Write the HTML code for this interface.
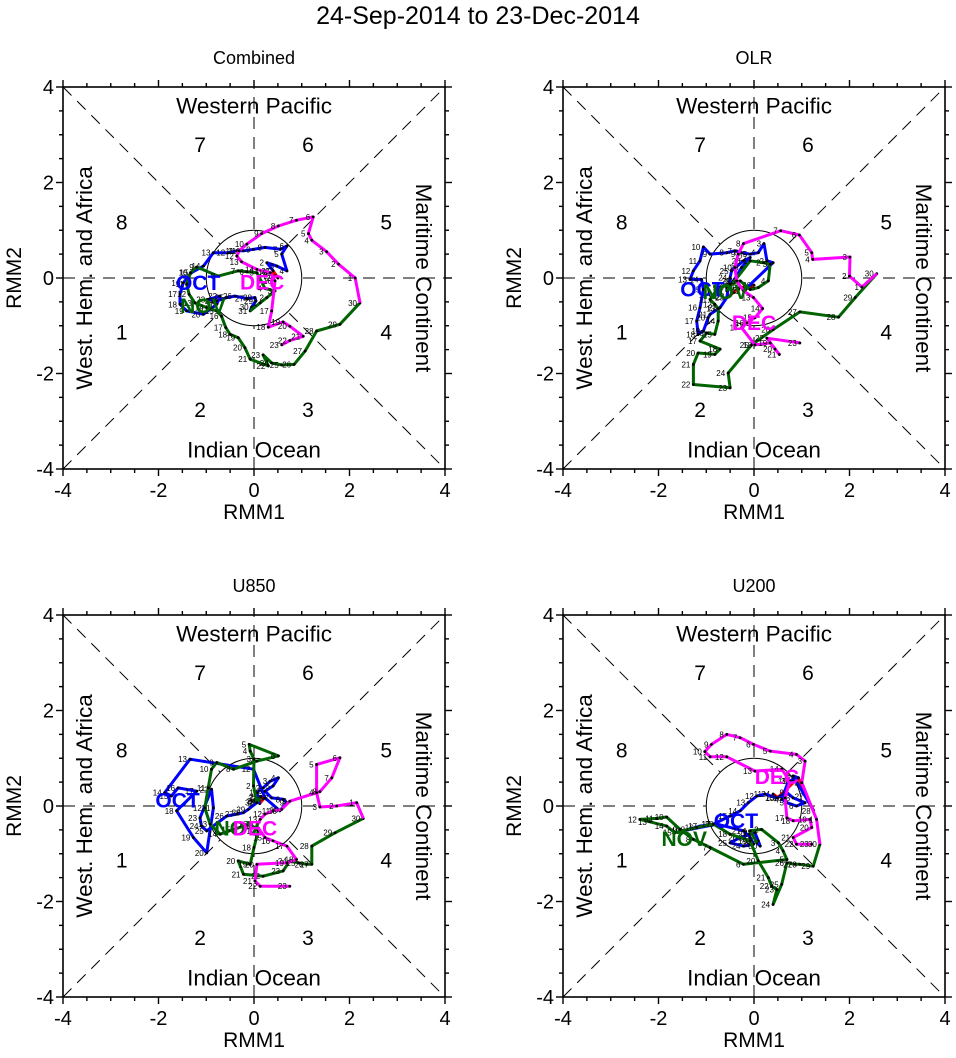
<!DOCTYPE html>
<html><head><meta charset="utf-8">
<style>
body{margin:0;background:#fff;}
svg{display:block;font-family:"Liberation Sans",Arial,sans-serif;}
</style></head>
<body>
<svg id="chart" width="956" height="1058" viewBox="0 0 956 1058">
<text x="478" y="24" text-anchor="middle" font-size="25">24-Sep-2014 to 23-Dec-2014</text>
</svg>
<script>
// ---- data (RMM1, RMM2) per panel / month ----
const panelTitles = ["Combined","OLR","U850","U200"];
const tickLabels = [-4,-2,0,2,4];
// Combined
const p1RedX=[0.35,0.45,0.50,0.40];
const p1RedY=[0.10,0.05,0.00,0.15];
const p1OctX=[0.40,0.27,0.48,0.69,0.58,0.69,0.55,0.23,-0.01,-0.22,-0.36,-0.54,-0.85,-1.06,-1.31,-1.48,-1.55,-1.55,-1.41,-1.06,-0.78,-0.71,-0.96,-0.78,-0.57,-0.40,-0.15,0.02,0.04,-0.05,-0.08];
const p1OctY=[0.15,0.32,0.25,0.15,0.50,0.67,0.60,0.64,0.60,0.57,0.57,0.53,0.53,0.25,0.11,-0.10,-0.34,-0.55,-0.69,-0.76,-0.55,-0.38,-0.45,-0.48,-0.41,-0.38,-0.43,-0.41,-0.48,-0.61,-0.69];
const p1NovX=[0.13,0.27,0.44,0.23,0.06,-0.15,-0.33,-0.75,-1.20,-1.33,-1.41,-1.36,-1.24,-0.99,-0.78,-0.68,-0.59,-0.50,-0.33,-0.19,-0.08,0.30,0.19,0.37,0.58,0.84,1.07,1.31,1.80,2.22];
const p1NovY=[-0.52,-0.41,-0.27,-0.22,0.11,0.13,0.15,0.04,0.23,0.11,-0.13,-0.34,-0.52,-0.62,-0.69,-0.80,-1.04,-1.18,-1.25,-1.46,-1.70,-1.84,-1.61,-1.78,-1.82,-1.81,-1.53,-1.11,-0.97,-0.52];
const p1DecX=[2.12,1.77,1.52,1.21,1.14,1.24,0.89,0.51,0.16,-0.15,-0.31,-0.36,-0.26,0.06,0.34,0.44,0.37,0.30,0.61,0.75,1.03,0.75,0.58];
const p1DecY=[0.00,0.29,0.55,0.79,0.93,1.28,1.21,1.09,0.93,0.71,0.57,0.46,0.34,0.18,0.11,-0.06,-0.69,-1.03,-0.92,-1.01,-1.22,-1.31,-1.40];
// OLR
const p2RedX=[-0.55,-0.30,0.00,-0.20];
const p2RedY=[-0.40,-0.20,-0.15,-0.25];
const p2OctX=[0.40,0.27,0.21,0.09,-0.08,-0.26,-0.40,-0.57,-0.92,-1.06,-1.13,-1.27,-1.34,-1.10,-1.06,-1.13,-1.20,-1.17,-1.06,-0.96,-0.92,-0.71,-0.57,-0.50,-0.47,-0.22,-0.08,-0.26,-0.43,-0.57,-0.57];
const p2OctY=[0.32,0.36,0.72,0.53,0.50,0.53,0.57,0.53,0.50,0.65,0.36,0.15,-0.03,-0.03,-0.24,-0.62,-0.90,-1.18,-1.11,-0.83,-0.76,-0.62,-0.41,0.01,0.15,0.36,0.43,0.22,-0.06,-0.20,-0.27];
const p2NovX=[-0.08,0.20,0.34,0.30,0.09,-0.08,-0.29,-0.50,-0.71,-0.82,-0.92,-0.82,-0.75,-0.75,-0.82,-0.99,-1.13,-0.71,-0.82,-1.17,-1.27,-1.27,-0.50,-0.54,-0.05,0.40,0.96,1.77,2.12,2.57];
const p2NovY=[0.36,0.32,0.29,-0.06,-0.20,-0.24,-0.06,-0.13,-0.20,-0.31,-0.45,-0.55,-0.64,-0.90,-1.18,-1.15,-1.32,-1.49,-1.60,-1.57,-1.81,-2.23,-2.30,-1.99,-1.40,-1.08,-0.71,-0.82,-0.41,0.09];
const p2DecX=[2.26,2.00,2.01,1.23,1.21,0.95,0.56,-0.22,-0.33,-0.40,-0.36,-0.22,-0.01,0.18,0.02,-0.15,-0.26,0.02,0.34,0.44,0.53,0.27,0.96];
const p2DecY=[-0.19,0.04,0.44,0.39,0.53,0.90,0.99,0.72,0.50,0.22,-0.06,-0.27,-0.41,-0.64,-0.83,-0.94,-1.04,-1.40,-1.36,-1.49,-1.60,-1.26,-1.36];
// U850
const p3RedX=[0.10,0.15,0.20,0.12];
const p3RedY=[0.10,0.20,0.15,0.05];
const p3OctX=[0.06,0.19,0.34,0.51,0.40,0.23,0.37,0.61,0.69,0.54,0.23,-0.01,-1.34,-1.87,-1.73,-1.59,-1.20,-1.62,-1.27,-0.99,-0.85,-0.89,-1.13,-1.10,-0.99,-0.57,-0.36,-0.22,-0.12,0.06,0.13];
const p3OctY=[0.28,0.38,0.52,0.59,0.42,0.31,0.17,0.14,0.07,-0.10,0.17,0.77,0.98,0.28,0.21,0.38,0.31,-0.10,-0.66,-0.98,-0.04,0.35,-0.25,-0.42,-0.52,-0.21,-0.17,-0.14,-0.07,0.07,0.17];
const p3NovX=[0.06,-0.01,0.00,-0.08,-0.10,0.51,0.06,-0.43,-0.78,-0.89,-0.96,-1.03,-0.92,-0.71,-0.43,-0.08,0.09,0.00,-0.08,-0.33,-0.22,0.19,0.61,0.75,0.93,1.10,1.21,1.21,1.70,2.29];
const p3NovY=[0.07,0.42,0.98,1.15,1.29,1.05,0.94,0.77,0.91,0.77,0.38,-0.04,-0.38,-0.59,-0.49,-0.38,-0.52,-0.87,-1.22,-1.15,-1.43,-1.47,-1.36,-1.15,-1.19,-1.22,-1.22,-0.84,-0.56,-0.26];
const p3DecX=[2.15,1.73,1.38,1.31,1.31,1.80,1.63,1.38,0.75,0.58,0.40,0.23,0.13,0.06,0.23,0.40,0.69,0.89,0.69,0.06,0.02,0.13,0.75];
const p3DecY=[0.07,0.00,-0.02,0.28,0.87,1.01,0.59,0.30,0.10,-0.07,-0.10,-0.17,-0.28,-0.42,-0.66,-0.73,-0.84,-1.12,-1.19,-1.22,-1.57,-1.68,-1.68];
// U200
const p4RedX=[0.40,0.50,0.93,1.10,1.25];
const p4RedY=[0.25,0.18,0.59,0.20,-0.10];
const p4OctX=[0.82,0.93,0.72,0.58,0.69,0.89,1.07,0.82,0.69,0.48,0.23,0.06,-0.12,-0.29,-0.50,-0.85,-1.13,-1.38,-1.48,-0.78,-0.22,-0.08,-0.01,-0.22,-0.50,-0.29,-0.08,0.02,0.09,0.13,0.06];
const p4OctY=[0.63,0.59,0.52,0.14,0.07,0.00,0.07,0.17,0.28,0.17,0.25,0.21,0.07,-0.10,-0.21,-0.38,-0.42,-0.49,-0.52,-0.38,-0.52,-0.66,-0.80,-0.84,-0.77,-0.66,-0.59,-0.56,-0.73,-0.84,-0.77];
const p4NovX=[-0.08,0.16,0.51,0.61,0.69,-0.22,-0.92,-1.27,-1.55,-1.83,-2.04,-2.39,-2.18,-1.83,-1.66,-1.20,-0.85,-0.50,-0.08,0.09,0.30,0.37,0.48,0.40,0.58,0.69,0.86,0.96,1.24,1.38];
const p4NovY=[-0.52,-0.49,-0.77,-0.94,-1.12,-1.22,-0.87,-0.70,-0.49,-0.23,-0.26,-0.28,-0.33,-0.42,-0.56,-0.45,-0.38,-0.59,-0.73,-1.15,-1.50,-1.68,-1.75,-2.06,-1.64,-1.19,-1.22,-1.22,-1.26,-0.80];
const p4DecX=[1.31,1.00,1.07,0.89,0.34,-0.01,-0.29,-0.57,-0.89,-1.03,-0.92,-0.57,0.02,0.58,0.75,0.65,0.69,0.82,1.17,1.21,0.82,0.89,1.21];
const p4DecY=[-0.28,0.49,0.94,1.08,1.15,1.29,1.43,1.50,1.29,1.14,1.03,1.03,0.73,0.77,0.52,0.17,-0.25,-0.31,-0.28,-0.45,-0.66,-0.80,-0.80];
// month label anchor positions (RMM units)
const monthNames=["OCT","NOV","DEC"];
const p1MonthX=[-1.17,-1.07,0.17]; const p1MonthY=[-0.12,-0.60,-0.10];
const p2MonthX=[-1.08,-0.6,0.0];   const p2MonthY=[-0.25,-0.30,-0.95];
const p3MonthX=[-1.60,-0.35,0.02]; const p3MonthY=[0.10,-0.48,-0.48];
const p4MonthX=[-0.38,-1.46,0.48]; const p4MonthY=[-0.32,-0.70,0.60];

const panels=[
 {ox:63,oy:87,red:[p1RedX,p1RedY],oct:[p1OctX,p1OctY],nov:[p1NovX,p1NovY],dec:[p1DecX,p1DecY],mx:p1MonthX,my:p1MonthY},
 {ox:563,oy:87,red:[p2RedX,p2RedY],oct:[p2OctX,p2OctY],nov:[p2NovX,p2NovY],dec:[p2DecX,p2DecY],mx:p2MonthX,my:p2MonthY},
 {ox:63,oy:615,red:[p3RedX,p3RedY],oct:[p3OctX,p3OctY],nov:[p3NovX,p3NovY],dec:[p3DecX,p3DecY],mx:p3MonthX,my:p3MonthY},
 {ox:563,oy:615,red:[p4RedX,p4RedY],oct:[p4OctX,p4OctY],nov:[p4NovX,p4NovY],dec:[p4DecX,p4DecY],mx:p4MonthX,my:p4MonthY}
];
const NS="http://www.w3.org/2000/svg";
const svg=document.getElementById("chart");
const SIZE=382, S=SIZE/8;
function mk(tag,attrs,parent){const e=document.createElementNS(NS,tag);for(const k in attrs)e.setAttribute(k,attrs[k]);(parent||svg).appendChild(e);return e;}

panels.forEach((p,pi)=>{
 const g=mk("g",{});
 
 
 const X=v=>p.ox+(v+4)*S, Y=v=>p.oy+(4-v)*S;
 const t=mk("text",{x:X(0),y:p.oy-23,"text-anchor":"middle","font-size":18},g);t.textContent=panelTitles[pi];
 
 
 const dl=[[-4,-4,4,4],[-4,4,4,-4],[-4,0,4,0],[0,-4,0,4]];
 dl.forEach(d=>{const l=mk("line",{x1:X(d[0]),y1:Y(d[1]),x2:X(d[2]),y2:Y(d[3]),stroke:"#000","stroke-width":1,"stroke-dasharray":"12,8"},g);
  
  });
 const c=mk("circle",{cx:X(0),cy:Y(0),r:S,fill:"#fff",stroke:"#000","stroke-width":1},g);
 
 
 const fr=mk("rect",{x:p.ox,y:p.oy,width:SIZE,height:SIZE,fill:"none",stroke:"#000","stroke-width":1.6},g);
 
 
 for(let v=-4;v<=4.001;v+=0.5){
  const major=Math.abs(v%2)<0.01, L=major?7:4;
  mk("line",{x1:X(v),y1:p.oy+SIZE,x2:X(v),y2:p.oy+SIZE+L,stroke:"#000","stroke-width":1.4},g);
  mk("line",{x1:X(v),y1:p.oy,x2:X(v),y2:p.oy-L,stroke:"#000","stroke-width":1.4},g);
  mk("line",{x1:p.ox,y1:Y(v),x2:p.ox-L,y2:Y(v),stroke:"#000","stroke-width":1.4},g);
  mk("line",{x1:p.ox+SIZE,y1:Y(v),x2:p.ox+SIZE+L,y2:Y(v),stroke:"#000","stroke-width":1.4},g);
 }
 tickLabels.forEach(v=>{
  const a=mk("text",{x:X(v),y:p.oy+SIZE+28,"text-anchor":"middle","font-size":20},g);a.textContent=v;
  
  
  const b=mk("text",{x:p.ox-9,y:Y(v)+7,"text-anchor":"end","font-size":20},g);b.textContent=v;
  
  
 });
 const xt=mk("text",{x:X(0),y:p.oy+SIZE+50,"text-anchor":"middle","font-size":21},g);xt.textContent="RMM1";
 
 
 const yt=mk("text",{x:0,y:0,"text-anchor":"middle","font-size":21,transform:`translate(${p.ox-42},${Y(0)}) rotate(-90)`},g);yt.textContent="RMM2";
 
 
 const rl=[["Western Pacific",0,3.6,0],["Indian Ocean",0,-3.6,0],["West. Hem. and Africa",-3.55,0,-90],["Maritime Continent",3.55,0,90]];
 rl.forEach(r=>{const e=mk("text",{x:0,y:0,"text-anchor":"middle","dominant-baseline":"central","font-size":22.5,transform:`translate(${X(r[1])},${Y(r[2])}) rotate(${r[3]})`},g);e.textContent=r[0];
  
  });
 const ph=[[1,-2.77,-1.15],[2,-1.13,-2.77],[3,1.13,-2.77],[4,2.77,-1.15],[5,2.77,1.15],[6,1.13,2.77],[7,-1.13,2.77],[8,-2.77,1.15]];
 ph.forEach(q=>{const e=mk("text",{x:X(q[1]),y:Y(q[2]),"text-anchor":"middle","dominant-baseline":"central","font-size":21},g);e.textContent=q[0];
  
  });
 const series=[["red","#ff0000",p.red,24],["oct","#0000ff",p.oct,1],["nov","#006400",p.nov,1],["dec","#ff00ff",p.dec,1]];
 series.forEach(s=>{
  const xs=s[2][0], ys=s[2][1];
  let pts=xs.map((v,i)=>X(v).toFixed(1)+","+Y(ys[i]).toFixed(1));
  if(s[0]==="oct") pts.unshift(X(p.red[0][p.red[0].length-1]).toFixed(1)+","+Y(p.red[1][p.red[1].length-1]).toFixed(1));
  if(s[0]==="nov") pts.unshift(X(p.oct[0][p.oct[0].length-1]).toFixed(1)+","+Y(p.oct[1][p.oct[1].length-1]).toFixed(1));
  if(s[0]==="dec") pts.unshift(X(p.nov[0][p.nov[0].length-1]).toFixed(1)+","+Y(p.nov[1][p.nov[1].length-1]).toFixed(1));
  const pl=mk("polyline",{points:pts.join(" "),fill:"none",stroke:s[1],"stroke-width":3,"stroke-linejoin":"round"},g);
  
  
  xs.forEach((v,i)=>{
   const d=mk("circle",{cx:X(v),cy:Y(ys[i]),r:1.4,fill:"#000"},g);
   
   
   const lb=mk("text",{x:X(v)-3,y:Y(ys[i])+3,"text-anchor":"end","font-size":8},g);lb.textContent=s[3]+i;
   
   
  });
 });
 const mc=["#0000ff","#006400","#ff00ff"];
 monthNames.forEach((m,i)=>{
  const e=mk("text",{x:X(p.mx[i]),y:Y(p.my[i]),"text-anchor":"middle","dominant-baseline":"central","font-size":21,"font-weight":"bold",fill:mc[i]},g);e.textContent=m;
  
  
 });
});
</script>
</body></html>
